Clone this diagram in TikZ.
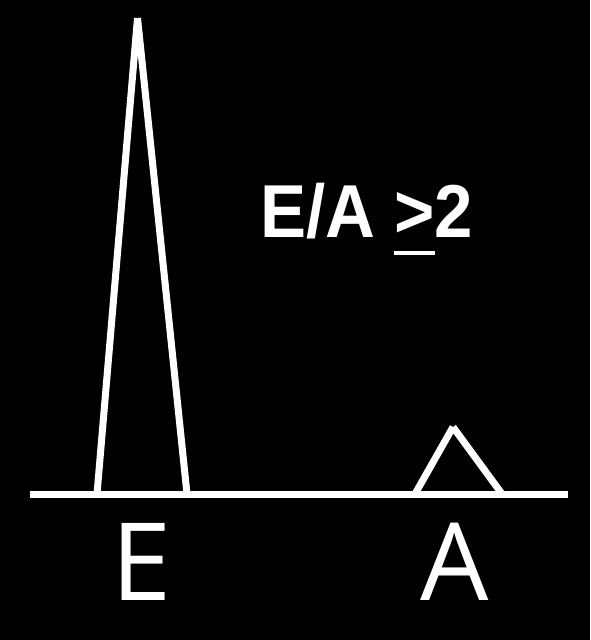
\documentclass[tikz,border=0pt]{standalone}
\usepackage{fontspec}
\newfontfamily\condbold[FakeStretch=0.92]{Liberation Sans Bold}
\newfontfamily\labelfont{Open Sans}
\newcommand\myul[1]{\leavevmode\vtop{\hbox{#1}\kern 14pt\hrule height 4pt}}
\begin{document}
\begin{tikzpicture}[x=1pt,y=-1pt,
  wl/.style={draw=white,line width=7pt,line cap=butt},
  lbl/.style={text=white,font=\labelfont\fontsize{108}{108}\selectfont,inner sep=0pt,anchor=base},
  ratio/.style={text=white,font=\condbold\fontsize{75}{75}\selectfont,inner sep=0pt,anchor=base west}]
\fill[black] (0,0) rectangle (590,640);
\useasboundingbox (0,0) rectangle (590,640);
\coordinate (b0) at (30,494);
\coordinate (b1) at (568,494);
\coordinate (e0) at (97,494);
\coordinate (etop) at (137.5,18);
\coordinate (e1) at (187,494);
\coordinate (a0) at (415,494);
\coordinate (atop) at (453,427);
\coordinate (a1) at (502,494);
\draw[wl] (b0) -- (b1);
\draw[wl] (e0) -- (etop);
\draw[wl] (etop) -- (e1);
\draw[wl] (a0) -- (atop);
\draw[wl] (atop) -- (a1);
\node[lbl] (le) at (142,600) {E};
\node[lbl] (la) at (455,600) {A};
\node[ratio] (ea) at (260,237) {E/A \myul{>}2};
\end{tikzpicture}
\end{document}
